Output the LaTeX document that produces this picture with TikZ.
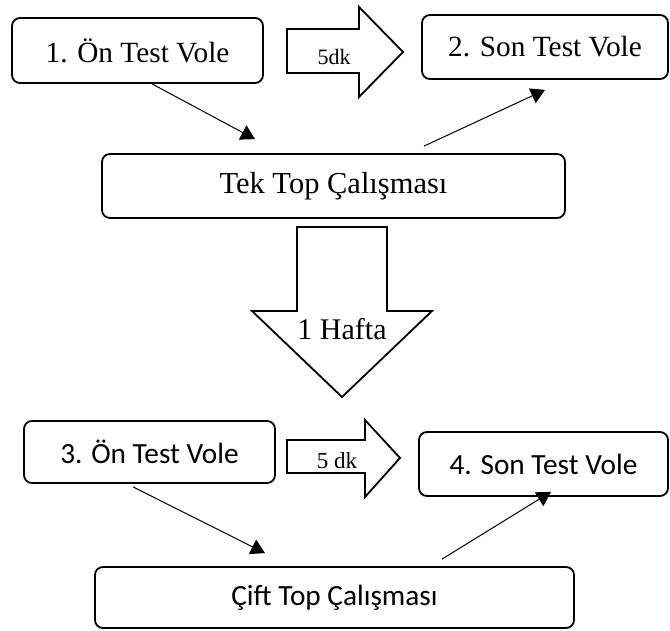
\documentclass[tikz,border=0pt]{standalone}
\usepackage{fontspec}
\setmainfont{Liberation Serif}
\newfontfamily\calibrifont{Carlito}
\usetikzlibrary{arrows.meta}
\begin{document}
\begin{tikzpicture}[x=1pt,y=-1pt,
  box/.style={draw, line width=1.8pt, rounded corners=8pt, inner sep=0pt, align=center},
  serifbig/.style={font=\fontsize{29.3}{34}\selectfont},
  sansbig/.style={font=\calibrifont\fontsize{29.3}{34}\selectfont},
  conn/.style={line width=1pt, -{Triangle[length=14pt,width=16pt]}},
  blockarrow/.style={draw, line width=1.8pt, line join=miter, fill=white}]
\useasboundingbox (0,0) rectangle (670,631);

% boxes
\node[box, serifbig, minimum width=251pt, minimum height=65pt] (b1) at (137.5,50.5) {1. Ön Test Vole};
\node[box, serifbig, minimum width=246pt, minimum height=64pt] (b2) at (545,47) {2. Son Test Vole};
\node[box, font=\fontsize{30.5}{35}\selectfont, minimum width=463pt, minimum height=64pt] (tek) at (333.5,186) {Tek Top Çalışması};
\node[box, sansbig, minimum width=251pt, minimum height=62pt] (b3) at (149.5,452) {3. Ön Test Vole};
\node[box, sansbig, minimum width=249pt, minimum height=64pt] (b4) at (543.5,464) {4. Son Test Vole};
\node[box, sansbig, minimum width=479pt, minimum height=61pt] (cift) at (334.5,597.5) {Çift Top Çalışması};

% block arrows
\draw[blockarrow] (287,29) -- (359,29) -- (359,7) -- (403,52) -- (359,97) -- (359,73) -- (287,73) -- cycle;
\node[font=\fontsize{22}{26}\selectfont] (dk1) at (334,57) {5dk};

\draw[blockarrow] (297,227) -- (387,227) -- (387,311) -- (432,311) -- (342,397) -- (252,311) -- (297,311) -- cycle;
\node[font=\fontsize{30}{34}\selectfont] (hafta) at (342,329) {1 Hafta};

\draw[blockarrow] (287,440) -- (365,440) -- (365,420) -- (400,458) -- (365,497) -- (365,473) -- (287,473) -- cycle;
\node[font=\fontsize{23}{27}\selectfont] (dk2) at (337,461) {5 dk};

% connectors
\draw[conn] ([xshift=14.5pt]b1.south) -- ([xshift=-78.5pt,yshift=14pt]tek.north);
\draw[conn] ([xshift=90.5pt,yshift=7pt]tek.north) -- ([yshift=-10pt]b2.south);
\draw[conn] ([xshift=-16.5pt,yshift=-3pt]b3.south) -- ([xshift=-69.5pt,yshift=13pt]cift.north);
\draw[conn] ([xshift=107.5pt,yshift=7pt]cift.north) -- ([xshift=7.5pt,yshift=5pt]b4.south);
\end{tikzpicture}
\end{document}
